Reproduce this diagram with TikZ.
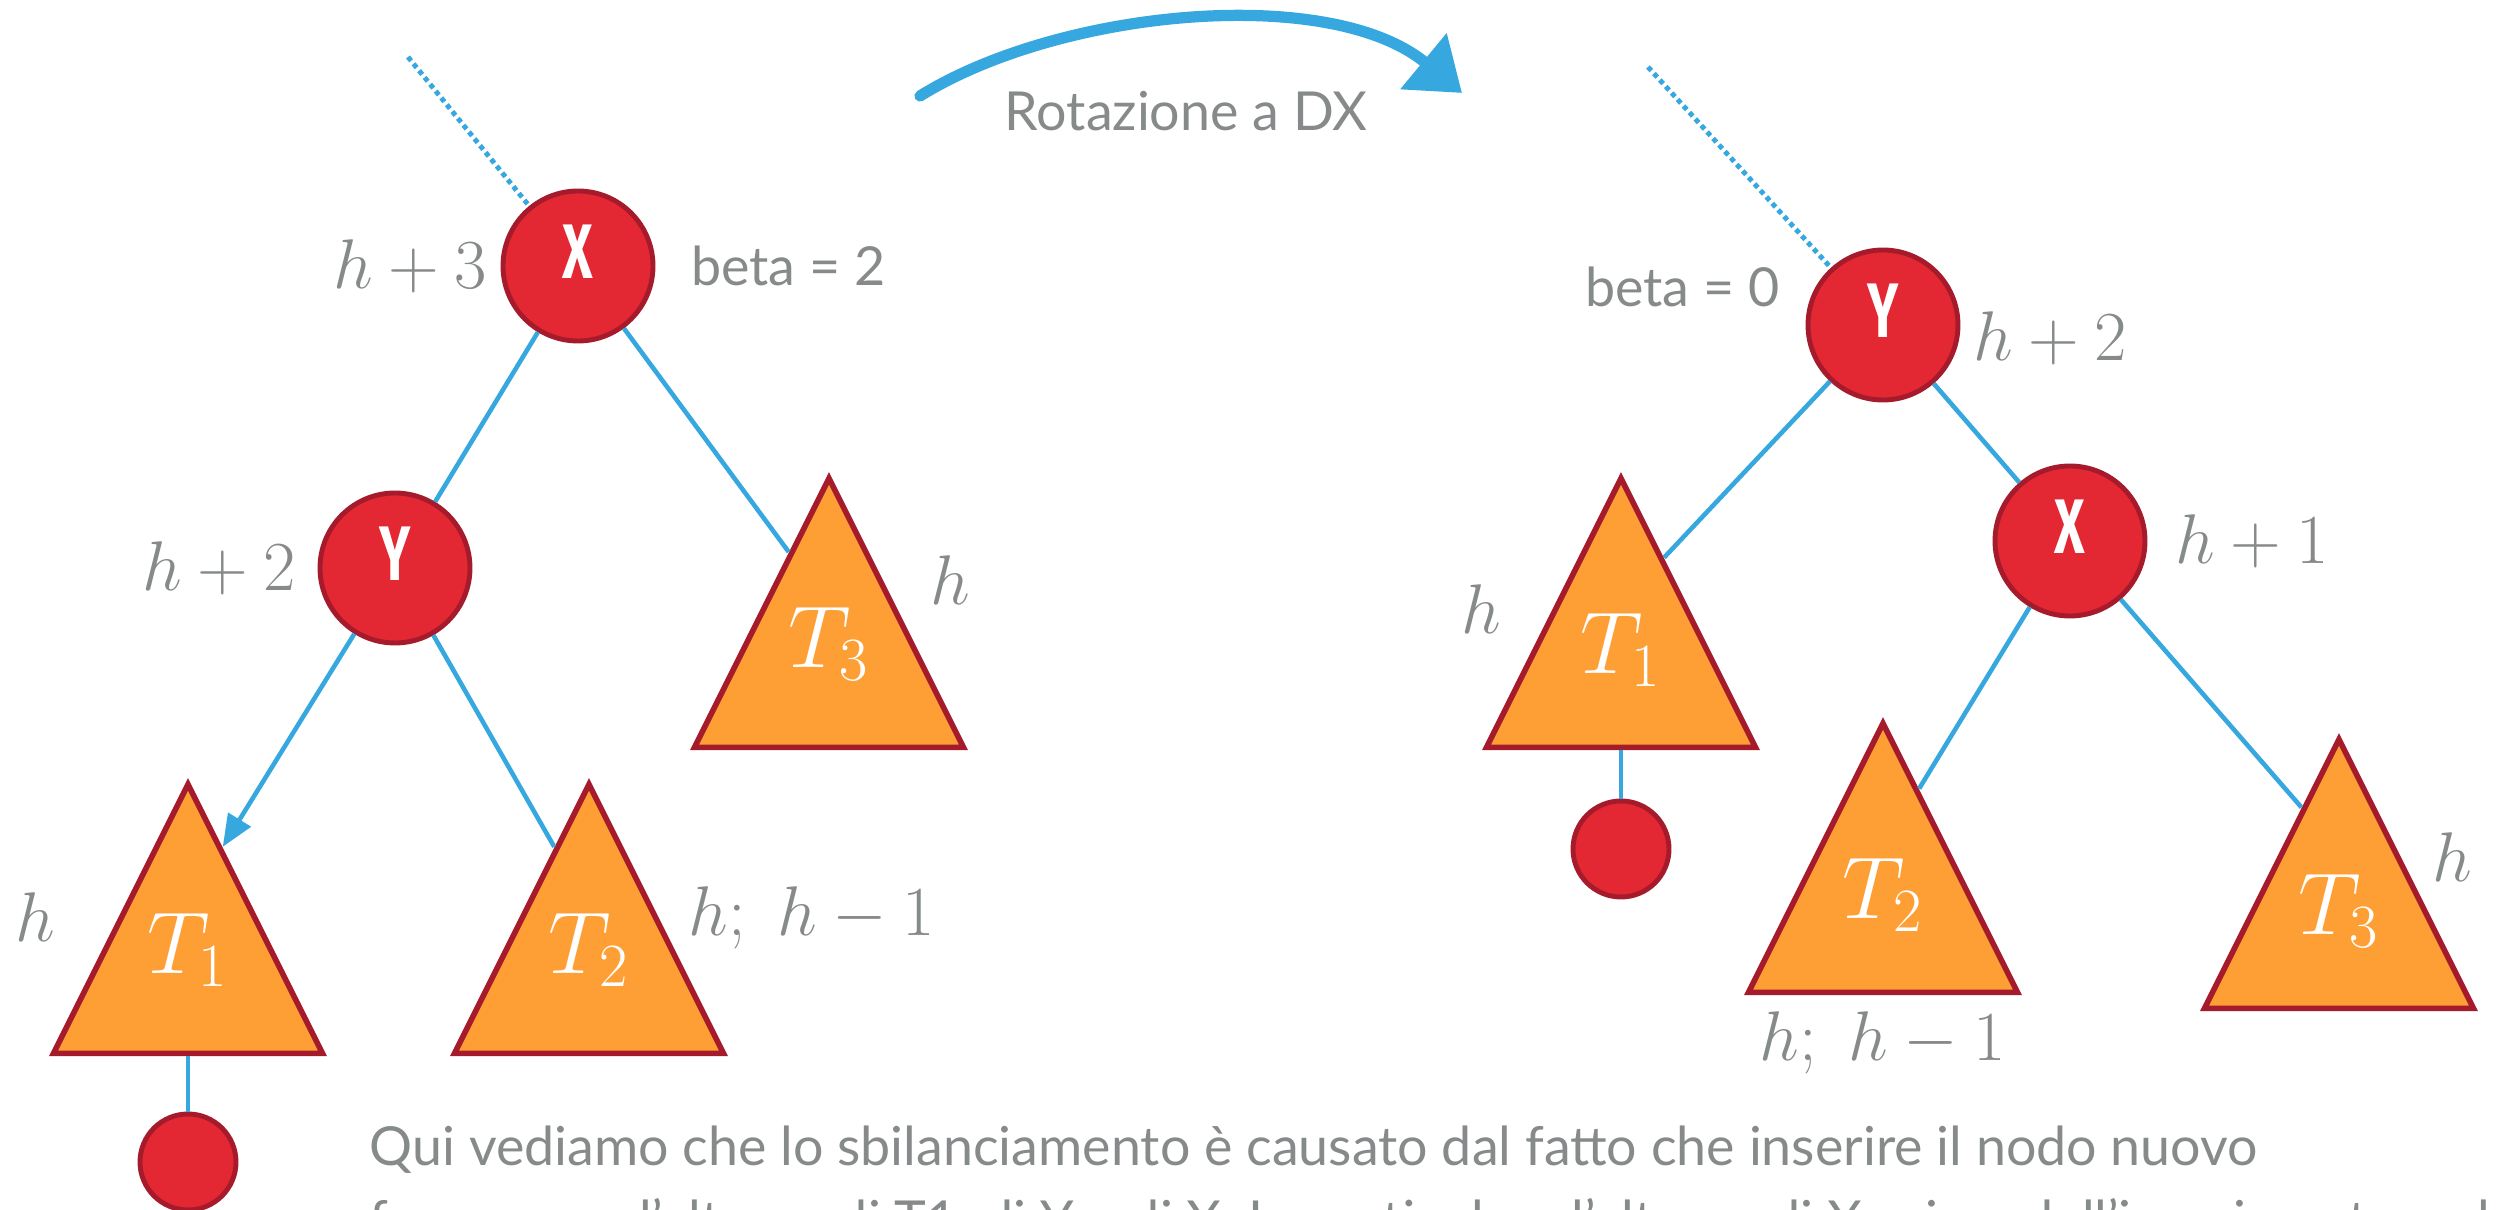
\RequirePackage{fix-cm}
\documentclass[tikz,border=0pt]{standalone}
\usepackage{amsmath}
\usepackage{fontspec}
\setsansfont{Lato}
\newfontfamily\keyfont[FakeStretch=0.68]{Fira Sans}
\usepackage{tikz}
\usetikzlibrary{arrows.meta, positioning, shapes.geometric, calc}
\definecolor{nodered}{HTML}{E32833}
\definecolor{nodeborder}{HTML}{A61B2C}
\definecolor{treeorange}{HTML}{FE9F36}
\definecolor{edgeblue}{HTML}{36A8DF}
\definecolor{textgray}{HTML}{878A8A}

\begin{document}
\begin{tikzpicture}[
    >={Triangle[length=0.32cm, width=0.26cm]},
    key/.style={draw=nodeborder, line width=1.4pt, circle, fill=nodered, minimum size=1.5cm, inner sep=0pt, text=white, font=\keyfont\bfseries\fontsize{22}{22}\selectfont},
    leaf/.style={draw=nodeborder, line width=1.4pt, circle, fill=nodered, minimum size=0.96cm, inner sep=0pt},
    subtree/.style={draw=nodeborder, line width=1.6pt, fill=treeorange, isosceles triangle, shape border rotate=90, isosceles triangle stretches, minimum width=2.69cm, minimum height=2.69cm, inner sep=0pt, anchor=apex},
    tlab/.style={text=white, inner sep=0pt, font=\fontsize{25}{25}\selectfont},
    edge/.style={edgeblue, line width=1.3pt},
    parent/.style={edgeblue, line width=1.4pt, dash pattern=on 1.4pt off 1.1pt},
    chalk/.style={edgeblue, line width=3.2pt, line cap=round, -{Triangle[length=0.5cm, width=0.7cm]}},
    hlab/.style={textgray, inner sep=0pt, font=\fontsize{20}{20}\selectfont},
    note/.style={textgray, inner sep=0pt, font=\sffamily\fontsize{15.3}{21}\selectfont},
]
    \useasboundingbox (0,0) rectangle (24.96,12.09);

    % Rotation arrow
    \coordinate (rs) at (9.20,11.13);
    \coordinate (re) at (14.62,11.16);
    \draw[chalk] (rs) .. controls (10.6,12.0) and (13.3,12.25) .. (re);
    \node[note] (rot) at (11.86,10.98) {Rotazione a DX};

    % Left tree (before)
    \coordinate (pa) at (4.08,11.52);
    \node[key] (xa) at (5.78,9.43) {\raisebox{8pt}{X}};
    \node[key] (ya) at (3.95,6.41) {\raisebox{8pt}{Y}};
    \node[subtree] (t1a) at (1.88,4.32) {};
    \node[subtree] (t2a) at (5.89,4.32) {};
    \node[subtree] (t3a) at (8.29,7.38) {};
    \node[leaf] (la) at (1.88,0.47) {};
    \node[tlab] at ($(t1a.apex)!0.62!(t1a.lower side)$) {$T_1$};
    \node[tlab] at ($(t2a.apex)!0.62!(t2a.lower side)$) {$T_2$};
    \node[tlab] at ($(t3a.apex)!0.62!(t3a.lower side)$) {$T_3$};

    \draw[parent] (pa) -- (xa);
    \draw[edge] (xa) -- (ya);
    \draw[edge] (xa) -- ($(t3a.apex)!0.29!(t3a.left corner)$);
    \draw[edge, ->] (ya) -- ($(t1a.apex)!0.25!(t1a.right corner)$);
    \draw[edge] (ya) -- ($(t2a.apex)!0.25!(t2a.left corner)$);
    \draw[edge] (t1a.lower side) -- (la);

    \node[hlab, left=0.13cm of xa] (hxa) {$h+3$};
    \node[note, right=0.35cm of xa] (bxa) {beta = 2};
    \node[hlab, left=0.21cm of ya] (hya) {$h+2$};
    \node[hlab] (ht1a) at (0.35,2.92) {$h$};
    \node[hlab, anchor=west] (ht2a) at (6.88,2.91) {$h;\; h-1$};
    \node[hlab] (ht3a) at (9.50,6.29) {$h$};

    % Right tree (after)
    \coordinate (pb) at (16.48,11.42);
    \node[key] (yb) at (18.83,8.84) {\raisebox{8pt}{Y}};
    \node[key] (xb) at (20.70,6.68) {\raisebox{8pt}{X}};
    \node[subtree] (t1b) at (16.21,7.38) {};
    \node[subtree] (t2b) at (18.83,4.93) {};
    \node[subtree] (t3b) at (23.39,4.77) {};
    \node[leaf] (lb) at (16.21,3.60) {};
    \node[tlab] at ($(t1b.apex)!0.64!(t1b.lower side)$) {$T_1$};
    \node[tlab] at ($(t2b.apex)!0.64!(t2b.lower side)$) {$T_2$};
    \node[tlab] at ($(t3b.apex)!0.64!(t3b.lower side)$) {$T_3$};

    \draw[parent] (pb) -- (yb);
    \draw[edge] (yb) -- ($(t1b.apex)!0.31!(t1b.right corner)$);
    \draw[edge] (yb) -- (xb);
    \draw[edge] (xb) -- ($(t2b.apex)!0.26!(t2b.right corner)$);
    \draw[edge] (xb) -- ($(t3b.apex)!0.27!(t3b.left corner)$);
    \draw[edge] (t1b.lower side) -- (lb);

    \node[note, anchor=east] (byb) at (17.80,9.22) {beta = 0};
    \node[hlab, right=0.12cm of yb, yshift=-0.13cm] (hyb) {$h+2$};
    \node[hlab, right=0.27cm of xb] (hxb) {$h+1$};
    \node[hlab] (ht1b) at (14.81,6.00) {$h$};
    \node[hlab] (ht2b) at (18.83,1.66) {$h;\; h-1$};
    \node[hlab] (ht3b) at (24.52,3.52) {$h$};

    % Explanation
    \node[note, anchor=north west, align=left] (expl) at (3.69,0.84)
        {Qui vediamo che lo sbilanciamento è causato dal fatto che inserire il nodo nuovo\\
         fa crescere l'altezza di T1, di Y e di X. In particolare l'altezza di X prima dell'inserimento, valeva h+2};
\end{tikzpicture}
\end{document}
